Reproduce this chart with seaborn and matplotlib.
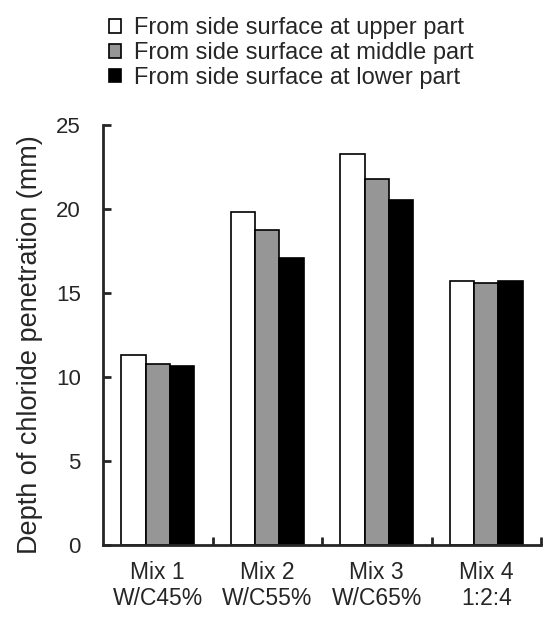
import numpy as np
import pandas as pd
import matplotlib
matplotlib.use("Agg")
import matplotlib.pyplot as plt
import seaborn as sns

# Values
mixes = ["Mix 1\nW/C45%", "Mix 2\nW/C55%", "Mix 3\nW/C65%", "Mix 4\n1:2:4"]
series = [
    "From side surface at upper part",
    "From side surface at middle part",
    "From side surface at lower part",
]
upper = [11.3, 19.8, 23.3, 15.7]
middle = [10.75, 18.75, 21.8, 15.6]
lower = [10.65, 17.1, 20.55, 15.7]
colors = ["#ffffff", "#969696", "#000000"]

df = pd.DataFrame({
    "mix": mixes * 3,
    "series": [s for s in series for _ in mixes],
    "depth": upper + middle + lower,
})

sns.set_style("ticks")
plt.rcParams["font.family"] = ["Liberation Sans", "DejaVu Sans"]

fig = plt.figure(figsize=(5.46, 6.28), dpi=100)
ax = fig.add_axes([0.1886, 0.1322, 0.8024, 0.6688])

sns.barplot(
    data=df, x="mix", y="depth", hue="series",
    order=mixes, hue_order=series, palette=colors,
    width=0.667, edgecolor="black", linewidth=1.2,
    errorbar=None, ax=ax, legend=True,
)

ax.set_xlim(-0.5, 3.5)
ax.set_ylim(0, 25)
ax.set_yticks([0, 5, 10, 15, 20, 25])
ax.set_xticks([0.5, 1.5, 2.5, 3.5])
ax.set_xticklabels([])
for i, m in enumerate(mixes):
    ax.text(i, -0.95, m, ha="center", va="top", fontsize=16.5, linespacing=1.15)

ax.set_xlabel("")
ax.set_ylabel("Depth of chloride penetration (mm)", fontsize=19.5)
ax.yaxis.set_label_coords(-0.138, 0.476)
ax.tick_params(axis="both", direction="in", length=6, width=2, labelsize=16)
ax.tick_params(axis="y", pad=16)
for side in ["left", "bottom"]:
    ax.spines[side].set_linewidth(2)
for side in ["top", "right"]:
    ax.spines[side].set_visible(False)

handles, labels = ax.get_legend_handles_labels()
ax.get_legend().remove()
fig.legend(
    handles, labels, loc="upper left", bbox_to_anchor=(0.161, 1.006),
    frameon=False, fontsize=17, handlelength=0.5, handleheight=0.5,
    handletextpad=0.55, labelspacing=0.12,
)

fig.savefig("out.png", dpi=100)
